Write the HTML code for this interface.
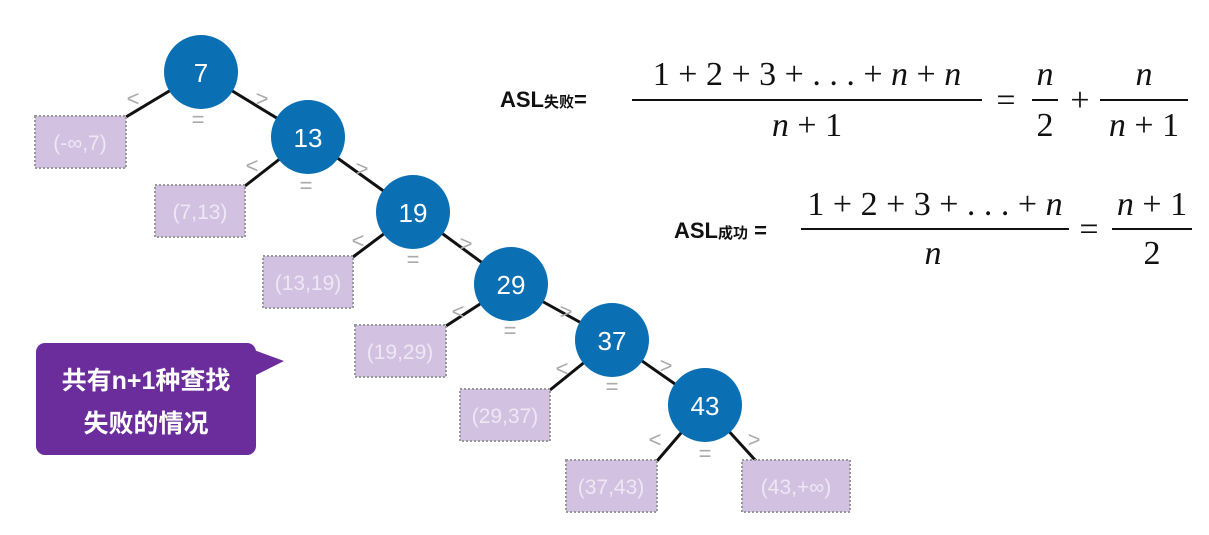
<!DOCTYPE html>
<html><head><meta charset="utf-8"><style>
body{margin:0;background:#fff;width:1209px;height:535px;overflow:hidden}
svg{display:block}
.n{fill:#fff;font:26px "Liberation Sans",sans-serif;text-anchor:middle}
.b{fill:#eee7f4;font:21px "Liberation Sans",sans-serif;text-anchor:middle}
.s{fill:#aaa;font:22px "Liberation Sans",sans-serif;text-anchor:middle}
.m{font-family:"Liberation Serif",serif;font-size:34px;fill:#111;text-anchor:middle}
.i{font-style:italic}
.a{font:bold 22px "Liberation Sans","Noto Sans CJK SC",sans-serif;fill:#111}
.c{font:bold 25px "Liberation Sans","Noto Sans CJK SC",sans-serif;fill:#fff;text-anchor:middle}
</style></head><body>
<svg width="1209" height="535" viewBox="0 0 1209 535">
<g stroke="#111" stroke-width="3">
<line x1="201" y1="72" x2="126" y2="117"/><line x1="201" y1="72" x2="308" y2="137"/>
<line x1="308" y1="137" x2="245" y2="186"/><line x1="308" y1="137" x2="413" y2="212"/>
<line x1="413" y1="212" x2="353" y2="257"/><line x1="413" y1="212" x2="511" y2="284"/>
<line x1="511" y1="284" x2="446" y2="326"/><line x1="511" y1="284" x2="612" y2="340"/>
<line x1="612" y1="340" x2="550" y2="390"/><line x1="612" y1="340" x2="705" y2="405"/>
<line x1="705" y1="405" x2="657" y2="461"/><line x1="705" y1="405" x2="756" y2="461"/>
</g>
<g fill="#d3c1e2" stroke="#999" stroke-width="2" stroke-dasharray="2,2">
<rect x="35" y="116" width="91" height="52"/><rect x="155" y="185" width="90" height="52"/>
<rect x="263" y="256" width="90" height="52"/><rect x="355" y="325" width="91" height="52"/>
<rect x="460" y="389" width="90" height="52"/><rect x="566" y="460" width="91" height="52"/>
<rect x="742" y="460" width="108" height="52"/>
</g>
<g class="b">
<text x="80" y="150">(-∞,7)</text><text x="200" y="219">(7,13)</text>
<text x="308" y="290">(13,19)</text><text x="400" y="359">(19,29)</text>
<text x="505" y="423">(29,37)</text><text x="611" y="494">(37,43)</text>
<text x="796" y="494">(43,+∞)</text>
</g>
<g fill="#0a6fb3">
<circle cx="201" cy="72" r="37"/><circle cx="308" cy="137" r="37"/><circle cx="413" cy="212" r="37"/>
<circle cx="511" cy="284" r="37"/><circle cx="612" cy="340" r="37"/><circle cx="705" cy="405" r="37"/>
</g>
<g class="n">
<text x="201" y="82">7</text><text x="308" y="147">13</text><text x="413" y="222">19</text>
<text x="511" y="294">29</text><text x="612" y="350">37</text><text x="705" y="415">43</text>
</g>
<g class="s">
<text x="133" y="106">&lt;</text><text x="262" y="106">&gt;</text><text x="198" y="127">=</text>
<text x="252" y="173">&lt;</text><text x="362" y="176">&gt;</text><text x="306" y="193">=</text>
<text x="358" y="248">&lt;</text><text x="466" y="251">&gt;</text><text x="413" y="267">=</text>
<text x="458" y="319">&lt;</text><text x="566" y="319">&gt;</text><text x="510" y="338">=</text>
<text x="562" y="376">&lt;</text><text x="666" y="373">&gt;</text><text x="612" y="394">=</text>
<text x="655" y="447">&lt;</text><text x="754" y="447">&gt;</text><text x="705" y="461">=</text>
</g>
<rect x="36" y="343" width="220" height="112" rx="9" fill="#6a2d9b"/>
<polygon points="254,350 284,361 254,376" fill="#6a2d9b"/>
<text class="c" x="146" y="389">共有n+1种查找</text>
<text class="c" x="146" y="432">失败的情况</text>
<text class="a" x="500" y="107">ASL<tspan font-size="15">失败</tspan>=</text>
<g stroke="#111" stroke-width="2"><line x1="632" y1="100" x2="982" y2="100"/>
<line x1="1032" y1="100" x2="1058" y2="100"/><line x1="1100" y1="100" x2="1188" y2="100"/>
<line x1="801" y1="229" x2="1069" y2="229"/><line x1="1112" y1="229" x2="1192" y2="229"/></g>
<text class="m" x="807" y="85">1 + 2 + 3 + . . . + <tspan class="i">n</tspan> + <tspan class="i">n</tspan></text>
<text class="m" x="807" y="136"><tspan class="i">n</tspan> + 1</text>
<text class="m" x="1006" y="111">=</text><text class="m" x="1080" y="111">+</text>
<text class="m" x="1045" y="85"><tspan class="i">n</tspan></text><text class="m" x="1045" y="136">2</text>
<text class="m" x="1144" y="85"><tspan class="i">n</tspan></text><text class="m" x="1144" y="136"><tspan class="i">n</tspan> + 1</text>
<text class="a" x="674" y="238">ASL<tspan font-size="15">成功</tspan> =</text>
<text class="m" x="935" y="215">1 + 2 + 3 + . . . + <tspan class="i">n</tspan></text>
<text class="m" x="933" y="264"><tspan class="i">n</tspan></text>
<text class="m" x="1089" y="240">=</text>
<text class="m" x="1152" y="215"><tspan class="i">n</tspan> + 1</text>
<text class="m" x="1152" y="264">2</text>
</svg>
</body></html>
